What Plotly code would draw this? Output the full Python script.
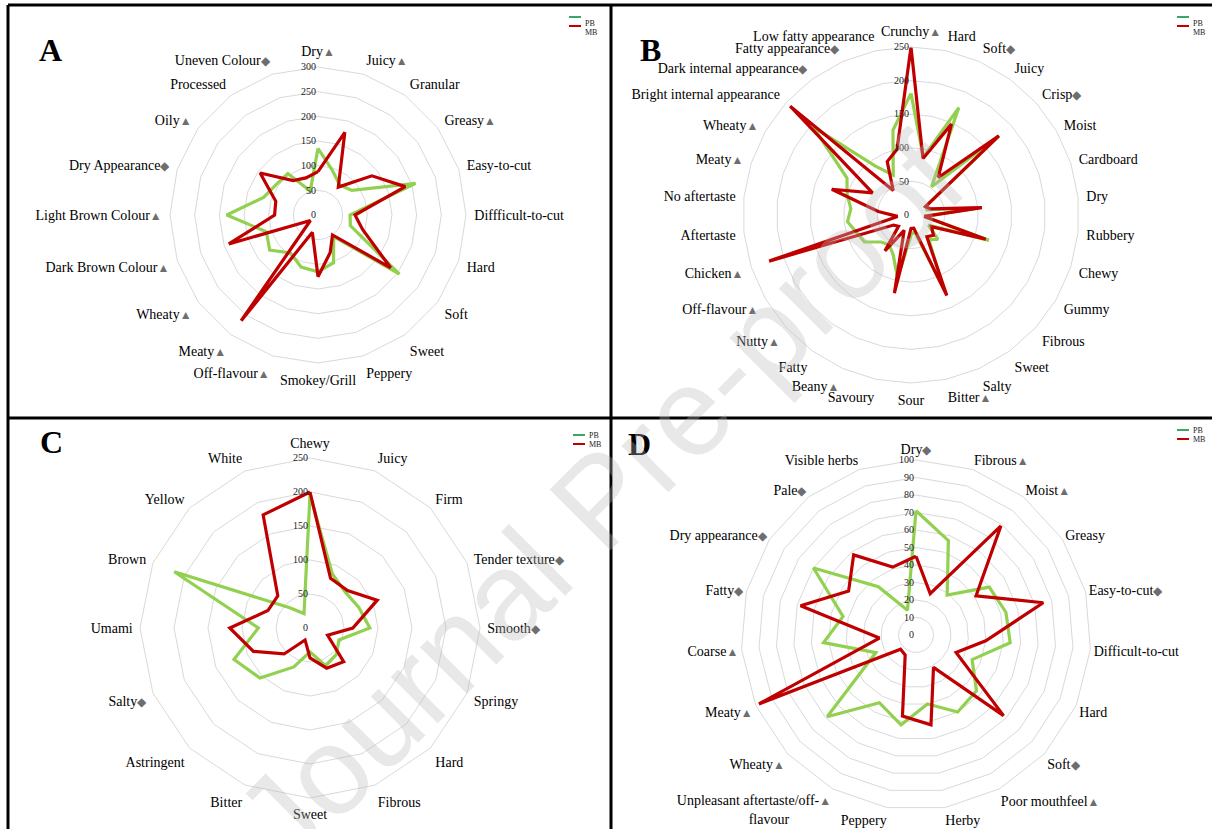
import plotly.graph_objects as go

FONT = "Liberation Serif"
GREEN = "#92D050"
RED = "#C00000"
GRID = "#d9d9d9"
W, H = 1212, 829

# ---------------- Panel A ----------------
A_cats = ["Dry", "Juicy", "Granular", "Greasy", "Easy-to-cut", "Diffficult-to-cut", "Hard", "Soft",
          "Sweet", "Peppery", "Smokey/Grill", "Off-flavour", "Meaty", "Wheaty", "Dark Brown Colour",
          "Light Brown Colour", "Dry Appearance", "Oily", "Processed", "Uneven Colour"]
A_marks = ["t", "t", "", "t", "", "", "", "", "", "", "", "t", "t", "t", "t", "t", "d", "t", "", "d"]
A_PB = [135, 95, 75, 85, 208, 65, 69, 204, 54, 102, 115, 111, 95, 121, 110, 185, 116, 105, 104, 51]
A_MB = [88, 176, 70, 135, 186, 75, 95, 182, 50, 80, 125, 37, 265, 19, 190, 88, 90, 145, 86, 79]
A_range = [0, 300]
A_dtick = 50

# ---------------- Panel B ----------------
B_cats = ["Crunchy", "Hard", "Soft", "Juicy", "Crisp", "Moist", "Cardboard", "Dry", "Rubbery", "Chewy",
          "Gummy", "Fibrous", "Sweet", "Salty", "Bitter", "Sour", "Savoury", "Beany", "Fatty", "Nutty",
          "Off-flavour", "Chicken", "Aftertaste", "No aftertaste", "Meaty", "Wheaty",
          "Bright internal appearance", "Dark internal appearance", "Fatty appearance",
          "Low fatty appearance"]
B_marks = ["t", "", "d", "", "d", "", "", "", "", "", "", "", "", "", "t", "", "", "t", "", "t",
           "t", "t", "", "", "t", "t", "", "d", "d", ""]
B_PB = [181, 88, 175, 52, 176, 25, 25, 100, 20, 122, 30, 54, 45, 120, 25, 30, 96, 65, 55, 60,
        80, 85, 95, 90, 100, 110, 196, 90, 65, 129]
B_MB = [250, 86, 148, 69, 176, 25, 30, 106, 20, 117, 35, 45, 40, 131, 20, 20, 119, 25, 66, 25,
        30, 222, 20, 49, 124, 66, 242, 45, 87, 100]
B_range = [0, 250]
B_dtick = 50

# ---------------- Panel C ----------------
C_cats = ["Chewy", "Juicy", "Firm", "Tender texture", "Smooth", "Springy", "Hard", "Fibrous", "Sweet",
          "Bitter", "Astringent", "Salty", "Umami", "Brown", "Yellow", "White"]
C_marks = ["", "", "", "d", "d", "", "", "", "", "", "", "d", "", "", "", ""]
C_PB = [196, 86, 74, 78, 88, 46, 55, 60, 35, 62, 104, 121, 76, 216, 42, 23]
C_MB = [200, 79, 78, 107, 63, 28, 70, 64, 44, 19, 54, 90, 118, 67, 67, 180]
C_range = [0, 250]
C_dtick = 50

# ---------------- Panel D ----------------
D_cats = ["Dry", "Fibrous", "Moist", "Greasy", "Easy-to-cut", "Difficult-to-cut", "Hard", "Soft",
          "Poor mouthfeel", "Herby", "Peppery", "Unpleasant aftertaste/off-flavour", "Wheaty", "Meaty",
          "Coarse", "Fatty", "Dry appearance", "Pale", "Visible herbs"]
D_marks = ["d", "t", "t", "", "d", "", "", "d", "t", "", "", "t", "t", "t", "t", "d", "d", "d", ""]
D_PB = [71, 57, 29, 50, 53, 54, 35, 47, 50, 40, 52, 44, 69, 25, 53, 43, 70, 35, 15]
D_MB = [45, 25, 79, 41, 75, 40, 25, 68, 21, 52, 47, 13, 12, 98, 21, 68, 46, 58, 41]
D_range = [0, 100]
D_dtick = 10

SERIES = ["PB", "MB"]
GLYPH = {"t": "▲", "d": "◆"}


def lab(text, mark):
    sym = ""
    if mark in GLYPH:
        sym = "<span style='color:#6e6e6e;font-size:12px'>" + GLYPH[mark] + "</span>"
    if text.endswith("off-flavour"):
        return text[:-len("flavour")] + sym + "<br>flavour            "
    return text + sym


def dom(cx, cy, r):
    return dict(x=[(cx - r) / W, (cx + r) / W], y=[1 - (cy + r) / H, 1 - (cy - r) / H])


fig = go.Figure()


def add_panel(sub, cats, marks, pb, mb, rrange, dtick, domain, tlen):
    theta = cats + [cats[0]]
    for name, vals, col in [(SERIES[0], pb, GREEN), (SERIES[1], mb, RED)]:
        fig.add_trace(go.Scatterpolar(
            r=vals + [vals[0]], theta=theta, mode="lines", name=name, subplot=sub,
            line=dict(color=col, width=3.2), showlegend=False))
    fig.update_layout(**{sub: dict(
        domain=domain, bgcolor="white", gridshape="linear",
        angularaxis=dict(type="category", direction="clockwise", rotation=90,
                         categoryorder="array", categoryarray=cats,
                         tickmode="array", tickvals=cats,
                         ticktext=[lab(c, m) for c, m in zip(cats, marks)],
                         tickfont=dict(family=FONT, size=14, color="#000000"),
                         showgrid=False, showline=True, linecolor=GRID, linewidth=1,
                         ticks="outside", ticklen=tlen, tickcolor="rgba(0,0,0,0)"),
        radialaxis=dict(range=rrange, dtick=dtick, tick0=0, angle=90, side="counterclockwise",
                        tickangle=90, showline=False, gridcolor=GRID, gridwidth=1, ticks="",
                        tickfont=dict(family=FONT, size=10, color="#222222")))})


add_panel("polar", A_cats, A_marks, A_PB, A_MB, A_range, A_dtick, dom(318, 215, 148), 5)
add_panel("polar2", B_cats, B_marks, B_PB, B_MB, B_range, B_dtick, dom(911, 215, 168), 5)
add_panel("polar3", C_cats, C_marks, C_PB, C_MB, C_range, C_dtick, dom(310, 628, 170), 4)
add_panel("polar4", D_cats, D_marks, D_PB, D_MB, D_range, D_dtick, dom(916, 635, 175), 0)

annotations = []
shapes = []

# panel letters
for letter, x, y in [("A", 37, 30), ("B", 650, 30), ("C", 38, 442), ("D", 640, 444)]:
    annotations.append(dict(text="<b>" + letter + "</b>", x=x / W, y=1 - y / H, xref="paper",
                            yref="paper", showarrow=False,
                            font=dict(family=FONT, size=32, color="black")))

# legends
for lx, ly in [(569, 17), (1177, 17), (573, 435), (1177, 430)]:
    for i, (name, col) in enumerate([(SERIES[0], "#3aa66a"), (SERIES[1], RED)]):
        yy = ly + i * 9
        shapes.append(dict(type="line", xref="paper", yref="paper", x0=lx / W, x1=(lx + 12) / W,
                           y0=1 - yy / H, y1=1 - yy / H, line=dict(color=col, width=2)))
        annotations.append(dict(text=name, x=(lx + 14) / W, y=1 - yy / H, xref="paper", yref="paper",
                                xanchor="left", showarrow=False,
                                font=dict(family=FONT, size=8, color="#222")))

# frame lines
for x0, y0, x1, y1 in [(8, 5, 1212, 5), (8, 5, 8, 829), (611, 5, 611, 829), (8, 418, 1212, 418)]:
    shapes.append(dict(type="line", xref="paper", yref="paper", x0=x0 / W, x1=x1 / W,
                       y0=1 - y0 / H, y1=1 - y1 / H, line=dict(color="black", width=3)))

# watermark
annotations.append(dict(text="Journal Pre-proof", x=600 / W, y=1 - 500 / H, xref="paper", yref="paper",
                        showarrow=False, textangle=-45,
                        font=dict(family="Liberation Sans", size=125, color="rgba(185,185,185,0.33)")))

fig.update_layout(width=W, height=H, margin=dict(l=0, r=0, t=0, b=0), paper_bgcolor="white",
                  showlegend=False, annotations=annotations, shapes=shapes)

fig.write_html("out.html")
